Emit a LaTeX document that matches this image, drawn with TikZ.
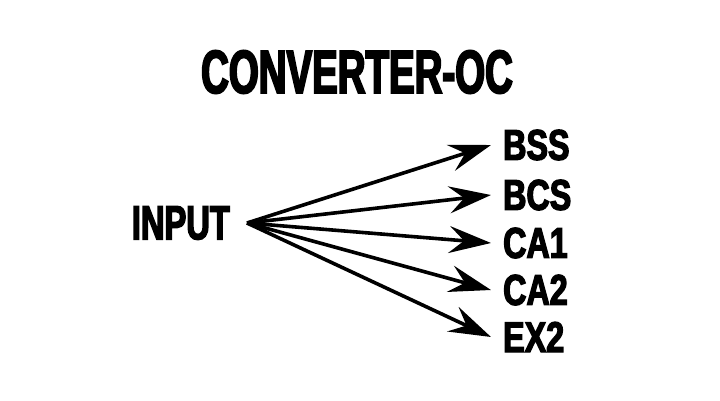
\documentclass[tikz,border=0pt]{standalone}
\usepackage{fontspec}
\usetikzlibrary{arrows.meta}
\newfontfamily\heavyfont[FakeStretch=0.68,FakeBold=3]{Liberation Sans Bold}
\newfontfamily\headfont[FakeStretch=0.63,FakeBold=3]{Liberation Sans Bold}
\newfontfamily\tagfont[FakeStretch=0.75,FakeBold=3]{Liberation Sans Bold}

\begin{document}
\begin{tikzpicture}[
      x=1pt, y=-1pt,
      title/.style={font=\headfont\fontsize{61}{61}\selectfont, inner sep=0pt},
      src/.style={font=\heavyfont\fontsize{48}{48}\selectfont, inner ysep=0pt,
                  inner xsep=17pt, anchor=east},
      target/.style={font=\tagfont\fontsize{43}{43}\selectfont, inner ysep=0pt,
                     inner xsep=12pt, anchor=west},
      arr/.style={-{Stealth[length=42pt,width=27pt,inset=15pt]}, line width=3.6pt}
    ]
    \useasboundingbox (0,0) rectangle (720,400);
    % Heading
    \node[title] (head) at (357,72) {CONVERTER-OC};
    % Source
    \node[src] (input) at (247,223) {INPUT};
    % Outputs
    \node[target] (bss) at (491,145) {BSS};
    \node[target] (bcs) at (491,195) {BCS};
    \node[target] (ca1) at (491,243) {CA1};
    \node[target] (ca2) at (491,290) {CA2};
    \node[target] (ex2) at (491,337) {EX2};
    % Arrows
    \foreach \t in {bss,bcs,ca1,ca2,ex2}
      \draw[arr] (input.east) -- (\t.west);
  \end{tikzpicture}
\end{document}
